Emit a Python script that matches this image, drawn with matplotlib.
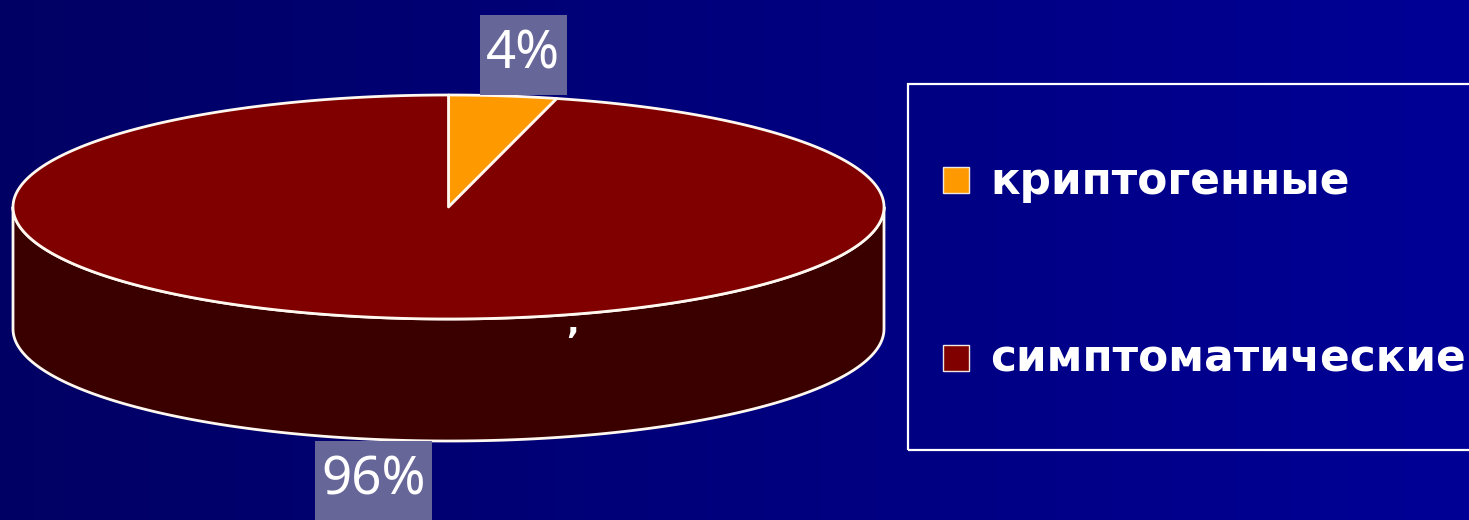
import numpy as np
import matplotlib
matplotlib.use("Agg")
import matplotlib.pyplot as plt
from matplotlib.patches import Polygon, Rectangle

# Share of cases by origin
categories = ["криптогенные", "симптоматические"]
values = [4, 96]
pct_labels = ["4%", "96%"]
colors = ["#FF9900", "#800000"]
side_color = "#3A0000"

W, H = 1469, 520
fig = plt.figure(figsize=(W / 100, H / 100), dpi=100)
ax = fig.add_axes([0, 0, 1, 1])
ax.set_xlim(0, W)
ax.set_ylim(0, H)
ax.axis("off")

# Horizontal navy gradient background
grad = np.linspace(0, 1, 256)
c0 = np.array([0, 0, 100]) / 255
c1 = np.array([0, 0, 150]) / 255
bg = (c0[None, :] * (1 - grad[:, None]) + c1[None, :] * grad[:, None])[None, :, :]
ax.imshow(bg, extent=[0, W, 0, H], aspect="auto", zorder=0)

# Tilted 3D pie geometry
cx, cy = 448.5, H - 207
rx, ry = 435.5, 112
depth = 122
edge = "#FFF8F0"
lw = 2.0


def ell(theta_deg, dz=0.0):
    t = np.radians(theta_deg)
    return np.column_stack([cx + rx * np.cos(t), cy + ry * np.sin(t) - dz])


# Side wall (front half of the cylinder)
front = np.linspace(180, 360, 200)
side = np.vstack([ell(front), ell(front[::-1], depth)])
ax.add_patch(Polygon(side, closed=True, facecolor=side_color, edgecolor=edge,
                     linewidth=lw, joinstyle="round", zorder=2))

# Top faces of the slices, clockwise from 12 o'clock
fracs = np.array(values, dtype=float) / sum(values)
start = 90.0
mids = []
for frac, col in zip(fracs, colors):
    end = start - 360 * frac
    th = np.linspace(start, end, max(int(abs(end - start) * 2), 4))
    pts = np.vstack([[cx, cy], ell(th)])
    ax.add_patch(Polygon(pts, closed=True, facecolor=col, edgecolor=edge,
                         linewidth=lw, joinstyle="round", zorder=3))
    mids.append((start + end) / 2)
    start = end

# Percentage labels on grey-blue boxes
fig.canvas.draw()
renderer = fig.canvas.get_renderer()
k = 1.37
box_h = 80
for lab, mid in zip(pct_labels, mids):
    t = np.radians(mid)
    lx = cx + rx * k * np.cos(t)
    ly = cy + ry * k * np.sin(t)
    if np.sin(t) < 0:
        ly -= depth
    txt = ax.text(lx, ly, lab, color="white", fontsize=38, family="Noto Sans",
                  ha="center", va="center", zorder=6)
    bb = txt.get_window_extent(renderer)
    bw = bb.width + 13
    ax.add_patch(Rectangle((lx - bw / 2, ly - box_h / 2), bw, box_h,
                           facecolor="#666699", edgecolor="none", zorder=5))

ax.text(573, H - 324, ",", color="white", fontsize=24, fontweight="bold",
        ha="center", va="center", zorder=5)

# Legend
ax.add_patch(Rectangle((908, H - 450), 600, 366, facecolor="none",
                       edgecolor="white", linewidth=1.6, zorder=4))
rows_y = [H - 180, H - 358]
for name, col, yy in zip(categories, colors, rows_y):
    ax.add_patch(Rectangle((943, yy - 13), 26, 26, facecolor=col,
                           edgecolor="#F0E8E0", linewidth=1.0, zorder=5))
    ax.text(990, yy - 14, name, color="white", fontsize=31.6,
            fontweight="bold", family="DejaVu Sans", ha="left",
            va="baseline", zorder=5)

fig.savefig("out.png", dpi=100, facecolor="#000070")
